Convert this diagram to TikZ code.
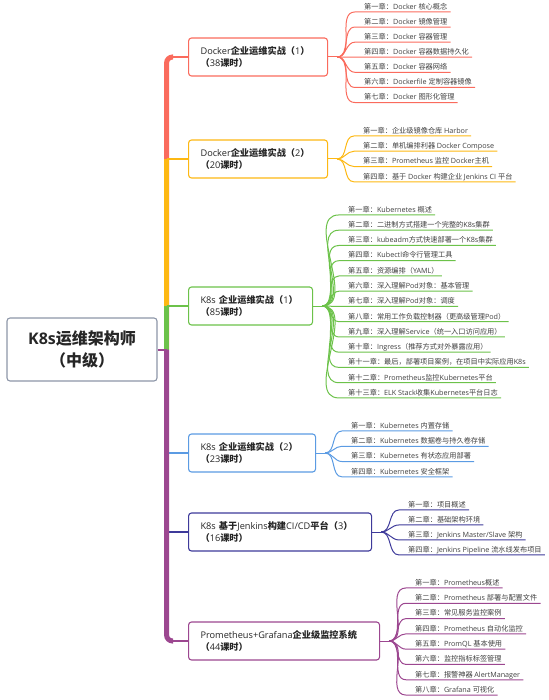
\documentclass[tikz,border=0pt]{standalone}
\usepackage{fontspec}
\setmainfont{Noto Sans CJK SC}
\newfontfamily\cjkfam{Noto Sans CJK SC}
\newfontfamily\latfam{Open Sans}
\usetikzlibrary{calc}
\newXeTeXintercharclass\mycjkclass
\newcount\mycc
\mycc="4E00 \loop\XeTeXcharclass\mycc=\mycjkclass\advance\mycc by 1\relax\ifnum\mycc<"A000 \repeat
\mycc="3000 \loop\XeTeXcharclass\mycc=\mycjkclass\advance\mycc by 1\relax\ifnum\mycc<"3040 \repeat
\mycc="FF00 \loop\XeTeXcharclass\mycc=\mycjkclass\advance\mycc by 1\relax\ifnum\mycc<"FFF0 \repeat
\newcommand\mycjksw{\cjkfam}
\newcommand\mylatsw{\latfam}
\XeTeXinterchartoks 0 \mycjkclass = {\mycjksw}
\XeTeXinterchartoks 4095 \mycjkclass = {\mycjksw}
\XeTeXinterchartoks \mycjkclass 0 = {\mylatsw}
\XeTeXinterchartoks 4095 0 = {\mylatsw}
\XeTeXinterchartokenstate=1
\definecolor{cRed}{HTML}{FA6B5D}
\definecolor{cOrange}{HTML}{FDB813}
\definecolor{cGreen}{HTML}{6CC24A}
\definecolor{cBlue}{HTML}{5B9BE3}
\definecolor{cIndigo}{HTML}{3E3A9A}
\definecolor{cPurple}{HTML}{9C4790}
\definecolor{cRoot}{HTML}{8D96A8}
\newcommand\leafgroup[6]{%
  \coordinate (#1f) at ($(#1.east)+(9,0)$);
  \draw[lk=#2] (#1.east) -- (#1f);
  \foreach \t [count=\i] in {#6} {
    \node[leaf] (#1-\i) at (#3, {#4+(\i-1)*#5}) {\t};
    \draw[lk=#2] (#1f) to[out=0,in=180] ($(#1-\i.south west)+(-8,0)$) -- ($(#1-\i.south east)+(2,0)$);
  }}
\begin{document}
\begin{tikzpicture}[x=1pt,y=-1pt,
  grp/.style={draw=#1, line width=1.1pt, rounded corners=3pt, fill=white, anchor=west, align=left,
    minimum height=38pt, inner xsep=12pt, text=black!85,
    font={\fontsize{9.2}{12}\selectfont\def\mycjksw{\cjkfam\bfseries}\def\mylatsw{\latfam\mdseries}}},
  rootbox/.style={draw=cRoot, line width=1.1pt, rounded corners=3pt, fill=white, align=center,
    minimum width=150pt, minimum height=63pt, text=black!85,
    font={\fontsize{16}{22}\selectfont\bfseries\def\mycjksw{\cjkfam\bfseries}\def\mylatsw{\latfam\bfseries}}},
  leaf/.style={anchor=west, inner xsep=1pt, inner ysep=1pt, text height=6pt, text depth=1.5pt,
    font=\fontsize{7.2}{8}\selectfont, text=black!75},
  lk/.style={draw=#1, line width=1pt},
  trunk/.style={draw=#1, line width=5pt},
]
\useasboundingbox (0,0) rectangle (548,700);

\node[rootbox] (root) at (82,349.5) {K8s运维架构师\\（中级）};
\coordinate (tr) at ($(root.east)+(9,0)$);

\node[grp=cRed, text width=115pt] (g1) at (188,57) {Docker企业运维实战（1）\\（38课时）};
\node[grp=cOrange, text width=115pt] (g2) at (188,159) {Docker企业运维实战（2）\\（20课时）};
\node[grp=cGreen, text width=100pt] (g3) at (188,306) {K8s 企业运维实战（1）\\（85课时）};
\node[grp=cBlue, text width=103pt] (g4) at (188,453) {K8s 企业运维实战（2）\\（23课时）};
\node[grp=cIndigo, text width=159pt] (g5) at (188,532) {K8s 基于Jenkins构建CI/CD平台（3）\\（16课时）};
\node[grp=cPurple, text width=167pt] (g6) at (188,641) {Prometheus+Grafana企业级监控系统\\（44课时）};

% trunk
\draw[trunk=cRed, rounded corners=6pt] (tr) |- ($(g1.west)+(-15,0)$);
\draw[draw=cRed, line width=1.5pt] ($(g1.west)+(-17,0)$) -- (g1.west);
\draw[trunk=cOrange] (tr) -- (tr |- g2.west);
\draw[draw=cOrange, line width=1.5pt] (tr |- g2.west) -- (g2.west);
\draw[trunk=cGreen] (tr) -- (tr |- g3.west);
\draw[draw=cGreen, line width=1.5pt] (tr |- g3.west) -- (g3.west);
\draw[trunk=cBlue] (tr) -- (tr |- g4.west);
\draw[draw=cBlue, line width=1.5pt] (tr |- g4.west) -- (g4.west);
\draw[trunk=cIndigo] (tr) -- (tr |- g5.west);
\draw[draw=cIndigo, line width=1.5pt] (tr |- g5.west) -- (g5.west);
\draw[trunk=cPurple, rounded corners=6pt] (tr) |- ($(g6.west)+(-15,0)$);
\draw[draw=cPurple, line width=1.5pt] ($(g6.west)+(-17,0)$) -- (g6.west);
\draw[draw=cPurple, line width=2pt] (root.east) -- (tr);

\leafgroup{g1}{cRed}{363}{7}{15.1}{{第一章：Docker 核心概念},{第二章：Docker 镜像管理},{第三章：Docker 容器管理},{第四章：Docker 容器数据持久化},{第五章：Docker 容器网络},{第六章：Dockerfile 定制容器镜像},{第七章：Docker 图形化管理}}
\leafgroup{g2}{cOrange}{362}{131}{15.3}{{第一章：企业级镜像仓库 Harbor},{第二章：单机编排利器 Docker Compose},{第三章：Prometheus 监控 Docker主机},{第四章：基于 Docker 构建企业 Jenkins CI 平台}}
\leafgroup{g3}{cGreen}{347}{210}{15.25}{{第一章：Kubernetes 概述},{第二章：二进制方式搭建一个完整的K8s集群},{第三章：kubeadm方式快速部署一个K8s集群},{第四章：Kubectl命令行管理工具},{第五章：资源编排（YAML）},{第六章：深入理解Pod对象：基本管理},{第七章：深入理解Pod对象：调度},{第八章：常用工作负载控制器（更高级管理Pod）},{第九章：深入理解Service（统一入口访问应用）},{第十章：Ingress（推荐方式对外暴露应用）},{第十一章：最后，部署项目案例，在项目中实际应用K8s},{第十二章：Prometheus监控Kubernetes平台},{第十三章：ELK Stack收集Kubernetes平台日志}}
\leafgroup{g4}{cBlue}{350}{426}{15.3}{{第一章：Kubernetes 内置存储},{第二章：Kubernetes 数据卷与持久卷存储},{第三章：Kubernetes 有状态应用部署},{第四章：Kubernetes 安全框架}}
\leafgroup{g5}{cIndigo}{407}{505}{15}{{第一章：项目概述},{第二章：基础架构环境},{第三章：Jenkins Master/Slave 架构},{第四章：Jenkins Pipeline 流水线发布项目}}
\leafgroup{g6}{cPurple}{414}{583}{15.3}{{第一章：Prometheus概述},{第二章：Prometheus 部署与配置文件},{第三章：常见服务监控案例},{第四章：Prometheus 自动化监控},{第五章：PromQL 基本使用},{第六章：监控指标标签管理},{第七章：报警神器 AlertManager},{第八章：Grafana 可视化}}
\end{tikzpicture}
\end{document}
